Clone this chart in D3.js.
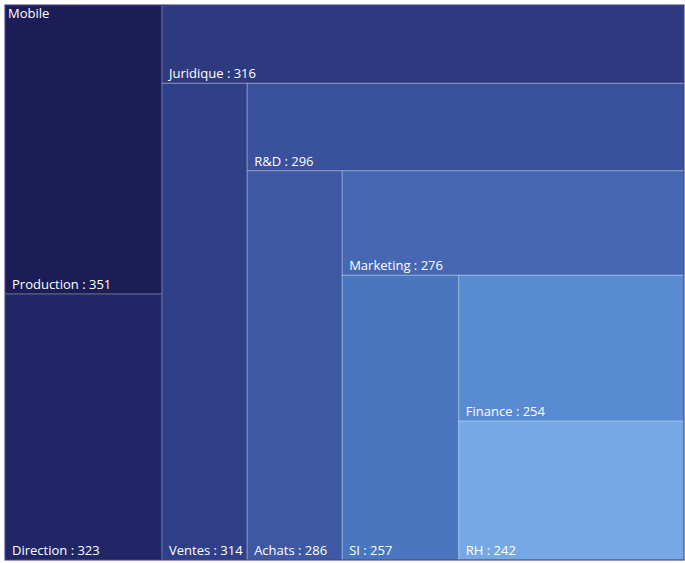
<!DOCTYPE html>
<html>
<head>
<meta charset="utf-8">
<script src="https://cdn.jsdelivr.net/npm/d3@7/dist/d3.min.js"></script>
<style>
    body { margin: 0; background: #ffffff; }
    svg { display: block; font-family: "Open Sans", "Noto Sans", sans-serif; }
</style>
</head>
<body>
<div class="viewport"></div>
<script>

var rootName = "Mobile";
var departments = ["Production", "Direction", "Juridique", "Ventes", "R&D", "Achats", "Marketing", "SI", "Finance", "RH"];
var counts = [351, 323, 316, 314, 296, 286, 276, 257, 254, 242];

// one shade per cell, darkest for the biggest
var palette = ["#1c1d56", "#212667", "#2d3a80", "#2f4088", "#3a529b", "#3e58a3", "#4668b2", "#4a76c0", "#588bd2", "#75a8e4"];

function letsGo() {

    var width = 685,
        height = 563,
        box = { x0: 5, y0: 5, x1: 684, y1: 560 };

    var data = {
        name: rootName,
        children: departments.map(function (d, i) { return { name: d, value: counts[i] }; })
    };

    var root = d3.hierarchy(data)
        .sum(function (d) { return d.value || 0; });

    // first two go in a column on the left, then rows on top / columns on the left in turn
    function tile(parent, x0, y0, x1, y1) {
        var nodes = parent.children,
            left = parent.value,
            i = 0,
            horizontal = false,
            first = nodes[0].value + nodes[1].value,
            w = (x1 - x0) * first / left;

        d3.treemapSlice({ children: nodes.slice(0, 2), value: first }, x0, y0, x0 + w, y1);
        x0 += w;
        left -= first;
        i = 2;
        horizontal = true;

        while (i < nodes.length) {
            var n = nodes[i], v = n.value;
            if (i === nodes.length - 1) {
                n.x0 = x0; n.y0 = y0; n.x1 = x1; n.y1 = y1;
            } else if (horizontal) {
                var h = (y1 - y0) * v / left;
                n.x0 = x0; n.x1 = x1; n.y0 = y0; n.y1 = y0 + h;
                y0 += h;
            } else {
                var ww = (x1 - x0) * v / left;
                n.x0 = x0; n.x1 = x0 + ww; n.y0 = y0; n.y1 = y1;
                x0 += ww;
            }
            left -= v;
            horizontal = !horizontal;
            i++;
        }
    }

    d3.treemap()
        .tile(tile)
        .size([box.x1 - box.x0, box.y1 - box.y0])
        .paddingInner(0)
        (root);

    var svg = d3.select(".viewport").append("svg")
        .attr("width", width)
        .attr("height", height);

    var g = svg.append("g")
        .attr("transform", "translate(" + box.x0 + "," + box.y0 + ")");

    var cell = g.selectAll("g.cell")
        .data(root.leaves())
        .enter().append("g")
        .attr("class", "cell");

    cell.append("rect")
        .attr("x", function (d) { return d.x0; })
        .attr("y", function (d) { return d.y0; })
        .attr("width", function (d) { return d.x1 - d.x0; })
        .attr("height", function (d) { return d.y1 - d.y0; })
        .attr("fill", function (d, i) { return palette[i]; })
        .attr("stroke", "rgba(255,255,255,0.25)")
        .attr("stroke-width", 1);

    cell.append("text")
        .attr("x", function (d) { return d.x0 + 7; })
        .attr("y", function (d) { return d.y1 - 5; })
        .attr("fill", "#ffffff")
        .attr("font-size", 13)
        .text(function (d) { return d.data.name + " : " + d.data.value; });

    g.append("rect")
        .attr("x", 0)
        .attr("y", 0)
        .attr("width", box.x1 - box.x0)
        .attr("height", box.y1 - box.y0)
        .attr("fill", "none")
        .attr("stroke", "#2b3078")
        .attr("stroke-width", 1);

    g.append("text")
        .attr("x", 3)
        .attr("y", 13)
        .attr("fill", "#ffffff")
        .attr("font-size", 13)
        .text(root.data.name);
}

letsGo();
</script>
</body>
</html>
